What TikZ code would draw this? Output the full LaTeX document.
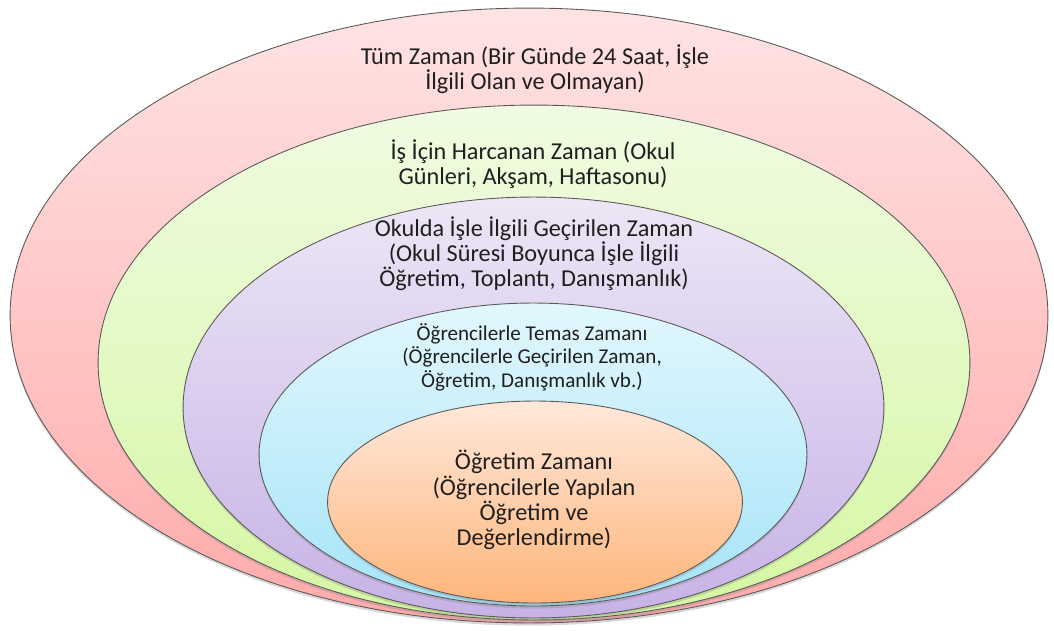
\documentclass[tikz,border=0pt]{standalone}
\usepackage{fontspec}
\setmainfont{Carlito}
\usepackage{tikz}
\usetikzlibrary{shapes.geometric,shadows}
\definecolor{pinkTop}{HTML}{FFE3E3}
\definecolor{pinkBot}{HTML}{FFAAAA}
\definecolor{greenTop}{HTML}{F0FBE2}
\definecolor{greenBot}{HTML}{D5F7A3}
\definecolor{lilacTop}{HTML}{ECE6F6}
\definecolor{lilacBot}{HTML}{C7B2E6}
\definecolor{cyanTop}{HTML}{E2F7FD}
\definecolor{cyanBot}{HTML}{A5E4F8}
\definecolor{peachTop}{HTML}{FFE8DA}
\definecolor{peachBot}{HTML}{FEB57B}
\tikzset{
  ring/.style={ellipse, draw=black!65, line width=0.5pt, inner sep=0pt,
    drop shadow={opacity=0.3, shadow xshift=0pt, shadow yshift=-1.5pt}},
  lbl/.style={align=center, text=black!88, font=\fontsize{13.8}{14.3}\selectfont},
  smalllbl/.style={lbl, font=\fontsize{12}{13.4}\selectfont}
}
\begin{document}
\begin{tikzpicture}[x=0.02cm, y=-0.02cm]
\useasboundingbox (0,0) rectangle (1054,630);
% nested ellipses, outermost first
\node[ring, minimum width=20.76cm, minimum height=12.30cm, top color=pinkTop, bottom color=pinkBot] (allTime) at (529,315.5) {};
\node[ring, minimum width=17.44cm, minimum height=10.30cm, top color=greenTop, bottom color=greenBot] (workTime) at (534,362.5) {};
\node[ring, minimum width=14.02cm, minimum height=8.42cm, top color=lilacTop, bottom color=lilacBot] (schoolTime) at (533.5,407.5) {};
\node[ring, minimum width=10.96cm, minimum height=6.06cm, top color=cyanTop, bottom color=cyanBot] (contactTime) at (533,454.5) {};
\node[ring, minimum width=8.30cm, minimum height=4.04cm, top color=peachTop, bottom color=peachBot] (teachTime) at (535,502) {};
% labels
\node[lbl] (allText) at (535,69.5) {Tüm Zaman (Bir Günde 24 Saat, İşle\\İlgili Olan ve Olmayan)};
\node[lbl] (workText) at (533,164.5) {İş İçin Harcanan Zaman (Okul\\Günleri, Akşam, Haftasonu)};
\node[lbl] (schoolText) at (534,254) {Okulda İşle İlgili Geçirilen Zaman\\(Okul Süresi Boyunca İşle İlgili\\Öğretim, Toplantı, Danışmanlık)};
\node[smalllbl] (contactText) at (532,357) {Öğrencilerle Temas Zamanı\\(Öğrencilerle Geçirilen Zaman,\\Öğretim, Danışmanlık vb.)};
\node[lbl] (teachText) at (534,500) {Öğretim Zamanı\\(Öğrencilerle Yapılan\\Öğretim ve\\Değerlendirme)};
\end{tikzpicture}
\end{document}
